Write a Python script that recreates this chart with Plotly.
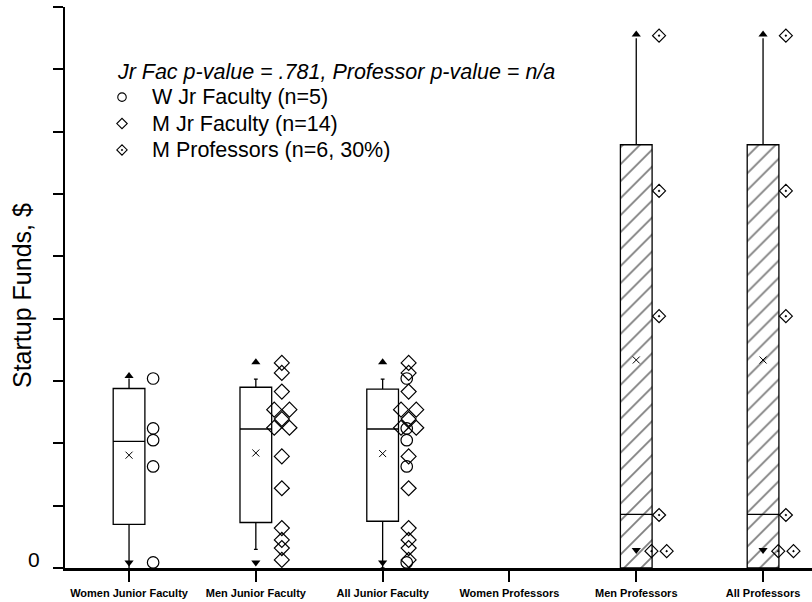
import plotly.graph_objects as go
import numpy as np
from collections import Counter, defaultdict

# ---------------- data ----------------
categories = ["Women Junior Faculty", "Men Junior Faculty", "All Junior Faculty",
              "Women Professors", "Men Professors", "All Professors"]

w_jr = [3.04, 2.24, 2.05, 1.63, 0.09]
m_jr = [3.29, 3.13, 2.83, 2.54, 2.54, 2.39, 2.25, 2.25, 1.79, 1.28, 0.64, 0.45, 0.32, 0.13]
m_prof = [8.54, 6.05, 4.04, 0.85, 0.27, 0.27]

# box statistics per category (None = no box)
q1 = [0.70, 0.73, 0.75, None, 0.0, 0.0]
median = [2.03, 2.23, 2.23, None, 0.86, 0.86]
q3 = [2.88, 2.90, 2.87, None, 6.79, 6.79]
lower_whisker = [0.0, 0.30, 0.0, None, 0.29, 0.29]
upper_whisker = [3.04, 3.03, 3.03, None, 8.50, 8.50]
upper_marks = [3.08, 3.30, 3.30, None, 8.56, 8.56]
lower_marks = [0.09, 0.09, 0.09, None, 0.29, 0.29]

legend_title = "Jr Fac p-value = .781, Professor p-value = n/a"
names = ["W Jr Faculty (n=5)", "M Jr Faculty (n=14)", "M Professors (n=6, 30%)"]
y_title = "Startup Funds, $"

# groups shown in each category
groups = {0: [w_jr], 1: [m_jr], 2: [w_jr, m_jr], 4: [m_prof], 5: [m_prof]}

FONT = "Liberation Sans, Arial, sans-serif"
BOX_W = 0.25
PLOT_L, PLOT_T, PLOT_W, PLOT_H = 65, 7, 747, 561


def spread(vals, center, offset, gap=0.12):
    counts = Counter(vals)
    seen = defaultdict(int)
    xs = []
    for v in vals:
        n = counts[v]
        k = seen[v]
        seen[v] += 1
        xs.append(center + offset + (k - (n - 1) / 2) * gap)
    return xs


fig = go.Figure()

# hatched professor boxes
hatch_x = [i for i in range(len(categories)) if q1[i] is not None and i >= 4]
fig.add_trace(go.Bar(
    x=hatch_x, y=[q3[i] - q1[i] for i in hatch_x], base=[q1[i] for i in hatch_x],
    width=BOX_W, marker=dict(color="white", line=dict(width=0),
                             pattern=dict(shape="/", fgcolor="black", bgcolor="white",
                                          size=12, solidity=0.15)),
    showlegend=False, hoverinfo="skip"))

# boxes
for i, cat in enumerate(categories):
    if q1[i] is None:
        continue
    caps = 0.12 if i in (1, 2) else 0
    fig.add_trace(go.Box(
        x=[i], q1=[q1[i]], median=[median[i]], q3=[q3[i]],
        lowerfence=[lower_whisker[i]], upperfence=[upper_whisker[i]],
        width=BOX_W, whiskerwidth=caps, boxpoints=False,
        fillcolor="rgba(0,0,0,0)" if i >= 4 else "white",
        line=dict(color="black", width=1.3),
        showlegend=False, hoverinfo="skip"))

# means
mean_x, mean_y = [], []
for i in groups:
    allv = [v for g in groups[i] for v in g]
    mean_x.append(i)
    mean_y.append(float(np.mean(allv)))
fig.add_trace(go.Scatter(x=mean_x, y=mean_y, mode="markers",
                         marker=dict(symbol="x-thin-open", size=7, color="black",
                                     line=dict(width=1, color="black")),
                         showlegend=False, hoverinfo="skip", cliponaxis=False))

# whisker end markers
ux = [i for i in range(len(categories)) if upper_marks[i] is not None]
fig.add_trace(go.Scatter(x=ux, y=[upper_marks[i] for i in ux], mode="markers",
                         marker=dict(symbol="triangle-up", size=8, color="black"),
                         showlegend=False, hoverinfo="skip", cliponaxis=False))
fig.add_trace(go.Scatter(x=ux, y=[lower_marks[i] for i in ux], mode="markers",
                         marker=dict(symbol="triangle-down", size=8, color="black"),
                         showlegend=False, hoverinfo="skip", cliponaxis=False))

# data points (+ legend entries with smaller symbols)
styles = [
    (w_jr, names[0], "circle-open", 11.5, 8.5, 0.19),
    (m_jr, names[1], "diamond-open", 11.5, 8, 0.205),
    (m_prof, names[2], "diamond-open-dot", 10, 8, 0.18),
]
for k, (vals, name, sym, size, lsize, off) in enumerate(styles):
    xs, ys = [], []
    for i, gl in groups.items():
        if any(g is vals for g in gl):
            xs += spread(vals, i, off)
            ys += vals
    fig.add_trace(go.Scatter(x=xs, y=ys, mode="markers", name=name,
                             marker=dict(symbol=sym, size=size, color="black",
                                         line=dict(width=1.2, color="black")),
                             legendgroup=f"g{k}", showlegend=False,
                             cliponaxis=False, hoverinfo="skip"))
    fig.add_trace(go.Scatter(x=[None], y=[None], mode="markers",
                             name=f'<span style="font-size:21.5px">{name}</span>',
                             marker=dict(symbol=sym, size=lsize, color="black",
                                         line=dict(width=1.1, color="black")),
                             legendgroup=f"g{k}", showlegend=True, hoverinfo="skip"))

# y-axis title
fig.add_annotation(text=y_title, textangle=-90, xref="paper", yref="paper",
                   x=(22 - PLOT_L) / PLOT_W, y=1 - (296 - PLOT_T) / PLOT_H,
                   xanchor="center", yanchor="middle", showarrow=False,
                   font=dict(size=25, family=FONT, color="black"))

fig.update_layout(
    width=812, height=602,
    margin=dict(l=PLOT_L, r=812 - PLOT_L - PLOT_W, t=PLOT_T, b=602 - PLOT_T - PLOT_H),
    plot_bgcolor="white", paper_bgcolor="white",
    boxmode="overlay", barmode="overlay",
    font=dict(family=FONT, color="black"),
    showlegend=True,
    legend=dict(x=(92 - PLOT_L) / PLOT_W, y=1 - (51 - PLOT_T) / PLOT_H,
                xanchor="left", yanchor="top",
                bgcolor="rgba(0,0,0,0)", font=dict(size=18, family=FONT),
                title=dict(text="<i>\u00a0\u00a0\u00a0\u00a0" + legend_title + "</i>",
                           font=dict(size=21.5, family=FONT)),
                tracegroupgap=0, itemwidth=50, itemsizing="trace"),
    xaxis=dict(range=[-0.505, 5.386], tickvals=list(range(len(categories))), ticktext=categories,
               ticks="outside", ticklen=11, tickwidth=2, tickcolor="black",
               showline=True, linewidth=2.5, linecolor="black", showgrid=False, zeroline=False,
               tickfont=dict(size=11, family=FONT, weight="bold"), ticklabelstandoff=2),
    yaxis=dict(range=[0, 9], tickvals=list(range(10)), ticktext=["0"] + [""] * 9,
               ticks="outside", ticklen=10, tickwidth=2, tickcolor="black",
               showline=True, linewidth=2, linecolor="black", showgrid=False, zeroline=False,
               tickfont=dict(size=21, family=FONT), ticklabelshift=-8, ticklabelstandoff=9),
)

fig.write_html("out.html", config={"displayModeBar": False},
               post_script="document.body.style.margin='0';")
